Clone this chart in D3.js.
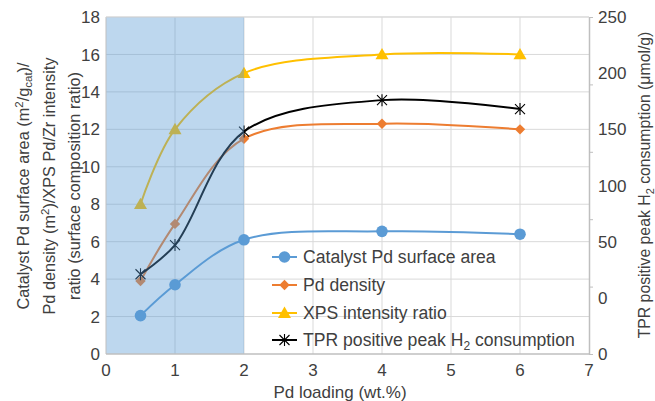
<!DOCTYPE html>
<html>
<head>
<meta charset="utf-8">
<script src="https://cdn.jsdelivr.net/npm/d3@7"></script>
<style>
  html, body { margin: 0; padding: 0; background: #fff; }
  svg { display: block; }
  text { font-family: "Liberation Sans", Arial, sans-serif; fill: #404040; }
</style>
</head>
<body>
<svg id="chart" width="655" height="401"></svg>
<script>
// ---- data ----
const loading = [0.5, 1, 2, 4, 6];
const surfaceArea = [2.05, 3.7, 6.1, 6.55, 6.4];
const pdDensity = [3.9, 6.95, 11.5, 12.3, 12.0];
const xpsRatio = [8, 12, 15, 16, 16];
const tprH2 = [21, 47, 148, 176, 168];

const xTicks = [0, 1, 2, 3, 4, 5, 6, 7];
const yLeftTicks = [0, 2, 4, 6, 8, 10, 12, 14, 16, 18];
const yRightLabelValues = [250, 200, 150, 100, 50, 0, -50];
const yRightLabels = ["250", "200", "150", "100", "50", "0", "0"];
const yRightTickMarks = [0, 3.6, 7.2, 10.8, 14.4, 18];
const shadedRange = [0, 2];

const seriesNames = ["Catalyst Pd surface area", "Pd density", "XPS intensity ratio", "TPR positive peak H₂ consumption"];
const colors = ["#5B9BD5", "#ED7D31", "#FFC000", "#000000"];

// ---- layout ----
const svg = d3.select("#chart");
const m = { left: 106, right: 589, top: 17, bottom: 354 };
const x = d3.scaleLinear().domain([0, 7]).range([m.left, m.right]);
const yL = d3.scaleLinear().domain([0, 18]).range([m.bottom, m.top]);
const yR = d3.scaleLinear().domain([-50, 250]).range([m.bottom, m.top]);

const gridColor = "#d9d9d9";
const FS = 17;
const FTL = 16.3;
const FTR = 15.8;
const FLEG = 17.6;

// gridlines
svg.append("g").selectAll("line").data(yLeftTicks.slice(1)).join("line")
  .attr("x1", m.left).attr("x2", m.right)
  .attr("y1", d => yL(d)).attr("y2", d => yL(d))
  .attr("stroke", gridColor).attr("stroke-width", 1);
svg.append("g").selectAll("line").data(xTicks.slice(1, -1)).join("line")
  .attr("y1", m.top).attr("y2", m.bottom)
  .attr("x1", d => x(d)).attr("x2", d => x(d))
  .attr("stroke", gridColor).attr("stroke-width", 1);

// series
const series = [
  { vals: surfaceArea, y: yL, color: colors[0], marker: "circle" },
  { vals: pdDensity, y: yL, color: colors[1], marker: "diamond" },
  { vals: xpsRatio, y: yL, color: colors[2], marker: "triangle" },
  { vals: tprH2, y: yR, color: colors[3], marker: "star" }
];

function drawMarker(g, type, cx, cy, color, s) {
  if (type === "circle") {
    g.append("circle").attr("cx", cx).attr("cy", cy).attr("r", 5.8 * s).attr("fill", color);
  } else if (type === "diamond") {
    const r = 5.2 * s;
    g.append("path").attr("d", `M${cx},${cy - r}L${cx + r},${cy}L${cx},${cy + r}L${cx - r},${cy}Z`).attr("fill", color);
  } else if (type === "triangle") {
    const r = 6.5 * s;
    g.append("path").attr("d", `M${cx},${cy - r}L${cx + r},${cy + r * 0.75}L${cx - r},${cy + r * 0.75}Z`).attr("fill", color);
  } else if (type === "star") {
    const r = 5 * s;
    g.append("path").attr("d",
      `M${cx - r},${cy - r}L${cx + r},${cy + r}M${cx - r},${cy + r}L${cx + r},${cy - r}M${cx},${cy - r * 1.2}L${cx},${cy + r * 1.2}`)
      .attr("stroke", color).attr("stroke-width", 1.1).attr("fill", "none");
  }
}

const gData = svg.append("g");
series.forEach(s => {
  const pts = loading.map((l, i) => [x(l), s.y(s.vals[i])]);
  gData.append("path")
    .attr("d", d3.line().curve(d3.curveCatmullRom.alpha(0.5))(pts))
    .attr("fill", "none").attr("stroke", s.color).attr("stroke-width", 2);
});
series.forEach(s => {
  loading.forEach((l, i) => drawMarker(gData, s.marker, x(l), s.y(s.vals[i]), s.color, 1));
});

// shaded region (translucent overlay)
svg.append("rect")
  .attr("x", x(shadedRange[0])).attr("y", m.top)
  .attr("width", x(shadedRange[1]) - x(shadedRange[0]))
  .attr("height", m.bottom - m.top)
  .attr("fill", "#5B9BD5").attr("fill-opacity", 0.4);

// axes lines
svg.append("line").attr("x1", m.left).attr("x2", m.right).attr("y1", m.bottom).attr("y2", m.bottom)
  .attr("stroke", "#bfbfbf").attr("stroke-width", 1.5);
svg.append("line").attr("x1", m.left).attr("x2", m.left).attr("y1", m.top).attr("y2", m.bottom)
  .attr("stroke", "#bfbfbf").attr("stroke-width", 1);
svg.append("line").attr("x1", m.left).attr("x2", m.right).attr("y1", m.top).attr("y2", m.top)
  .attr("stroke", gridColor).attr("stroke-width", 1);

// right axis ticks
const gR = svg.append("g").attr("transform", `translate(${m.right},0)`)
  .call(d3.axisRight(yL).tickValues(yRightTickMarks).tickFormat("").tickSizeInner(4).tickSizeOuter(0));
gR.select(".domain").attr("stroke", "#bfbfbf").attr("stroke-width", 1.5);
gR.selectAll(".tick line").attr("stroke", "#bfbfbf");

// right axis labels
svg.append("g").selectAll("text").data(yRightLabelValues).join("text")
  .attr("x", 598).attr("y", d => yR(d)).attr("dy", "0.36em")
  .attr("font-size", FS).text((d, i) => yRightLabels[i]);

// left tick labels
svg.append("g").selectAll("text").data(yLeftTicks).join("text")
  .attr("x", 100).attr("y", d => yL(d)).attr("dy", "0.36em")
  .attr("text-anchor", "end").attr("font-size", FS).text(d => d);

// x tick labels
svg.append("g").selectAll("text").data(xTicks).join("text")
  .attr("x", d => x(d)).attr("y", 376)
  .attr("text-anchor", "middle").attr("font-size", FS).text(d => d);

// x title
svg.append("text").attr("x", 340).attr("y", 398).attr("text-anchor", "middle")
  .attr("font-size", FS).text("Pd loading (wt.%)");

// left title (3 lines)
const lt = svg.append("text").attr("transform", "translate(0,186) rotate(-90)")
  .attr("text-anchor", "middle").attr("font-size", FTL);
const l1 = lt.append("tspan").attr("x", 0).attr("y", 29);
l1.append("tspan").text("Catalyst Pd surface area (m");
l1.append("tspan").attr("dy", -6).attr("font-size", 11.5).text("2");
l1.append("tspan").attr("dy", 6).text("/g");
l1.append("tspan").attr("dy", 3).attr("font-size", 11.5).text("cat");
l1.append("tspan").attr("dy", -3).text(")/");
const l2 = lt.append("tspan").attr("x", 0).attr("y", 55);
l2.append("tspan").text("Pd density (m");
l2.append("tspan").attr("dy", -6).attr("font-size", 11.5).text("2");
l2.append("tspan").attr("dy", 6).text(")/XPS Pd/Zr intensity");
lt.append("tspan").attr("x", 0).attr("y", 80).text("ratio (surface composition ratio)");

// right title
const rt = svg.append("text").attr("transform", "translate(650,185) rotate(-90)")
  .attr("text-anchor", "middle").attr("font-size", FTR);
rt.append("tspan").text("TPR positive peak H");
rt.append("tspan").attr("dy", 4).attr("font-size", 11).text("2");
rt.append("tspan").attr("dy", -4).text(" consumption (μmol/g)");

// legend
const legY = [257, 285, 313, 340];
const gLeg = svg.append("g");
series.forEach((s, i) => {
  gLeg.append("line").attr("x1", 272).attr("x2", 297).attr("y1", legY[i]).attr("y2", legY[i])
    .attr("stroke", s.color).attr("stroke-width", 2);
  drawMarker(gLeg, s.marker, 284.5, legY[i], s.color, 1);
  const t = gLeg.append("text").attr("x", 303).attr("y", legY[i]).attr("dy", "0.36em").attr("font-size", FLEG);
  if (i === 3) {
    t.append("tspan").text("TPR positive peak H");
    t.append("tspan").attr("dy", 4).attr("font-size", 12).text("2");
    t.append("tspan").attr("dy", -4).text(" consumption");
  } else {
    t.text(seriesNames[i]);
  }
});
</script>
</body>
</html>
